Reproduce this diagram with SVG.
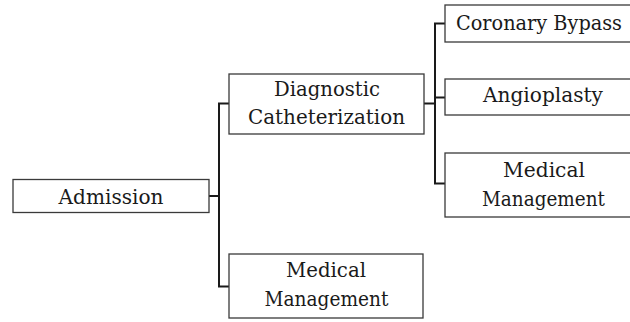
<svg xmlns="http://www.w3.org/2000/svg" width="630" height="322" viewBox="0 0 630 322">
<style>
  .box { fill: #ffffff; stroke: #3a3a3a; stroke-width: 1.3; }
  .lbl { font-family: "DejaVu Serif", serif; font-size: 21px; fill: #1a1a1a; text-anchor: middle; }
  .conn { fill: none; stroke: #1a1a1a; stroke-width: 2; }
</style>
<rect width="630" height="322" fill="#ffffff"/>
<g id="connectors">
  <path class="conn" d="M209,196 H219 M219,103.5 V287 M218,103.5 H229 M218,286.5 H229"/>
  <path class="conn" d="M424,103.5 H435 M435,23 V184 M434,23.5 H445 M434,97.5 H445 M434,183.5 H445"/>
</g>
<g id="admission">
  <rect class="box" x="13" y="179.5" width="196" height="33"/>
  <text class="lbl" x="111" y="203.5" textLength="105" lengthAdjust="spacingAndGlyphs">Admission</text>
</g>
<g id="diagnostic">
  <rect class="box" x="229" y="74" width="195" height="60"/>
  <text class="lbl" x="327" y="95.5" textLength="106" lengthAdjust="spacingAndGlyphs">Diagnostic</text>
  <text class="lbl" x="326.5" y="124" textLength="157" lengthAdjust="spacingAndGlyphs">Catheterization</text>
</g>
<g id="medical-bottom">
  <rect class="box" x="229" y="254" width="194" height="64"/>
  <text class="lbl" x="326" y="277" textLength="80" lengthAdjust="spacingAndGlyphs">Medical</text>
  <text class="lbl" x="326.5" y="305.5" textLength="124" lengthAdjust="spacingAndGlyphs">Management</text>
</g>
<g id="coronary">
  <rect class="box" x="445" y="5" width="195" height="37"/>
  <text class="lbl" x="539" y="30" textLength="166" lengthAdjust="spacingAndGlyphs">Coronary Bypass</text>
</g>
<g id="angioplasty">
  <rect class="box" x="445" y="79" width="195" height="36"/>
  <text class="lbl" x="543" y="101.5" textLength="120" lengthAdjust="spacingAndGlyphs">Angioplasty</text>
</g>
<g id="medical-right">
  <rect class="box" x="445" y="153" width="195" height="64"/>
  <text class="lbl" x="544" y="177" textLength="82" lengthAdjust="spacingAndGlyphs">Medical</text>
  <text class="lbl" x="543.5" y="205.5" textLength="123" lengthAdjust="spacingAndGlyphs">Management</text>
</g>
</svg>
